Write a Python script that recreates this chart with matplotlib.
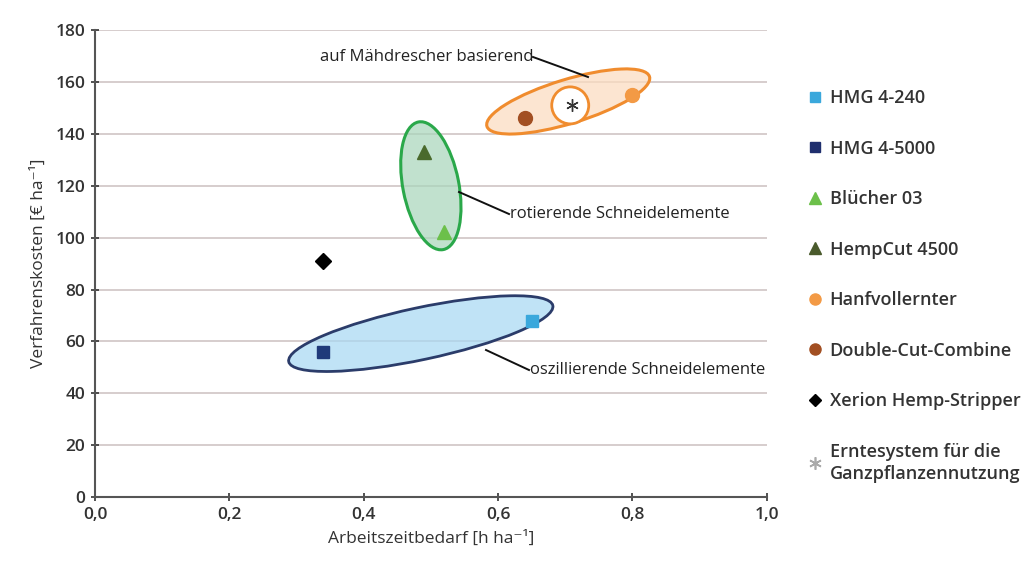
import matplotlib
matplotlib.use("Agg")
import matplotlib.pyplot as plt
import matplotlib.transforms as mtransforms
from matplotlib.patches import Ellipse
from matplotlib.lines import Line2D

# ---- data ----
names = ["HMG 4-240", "HMG 4-5000", "Blücher 03", "HempCut 4500",
         "Hanfvollernter", "Double-Cut-Combine", "Xerion Hemp-Stripper",
         "Erntesystem für die\nGanzpflanzennutzung"]
x_vals = [0.65, 0.34, 0.52, 0.49, 0.80, 0.64, 0.34, 0.71]
y_vals = [68, 56, 102, 133, 155, 146, 91, 151]
markers = ["s", "s", "^", "^", "o", "o", "D", (6, 2, 0)]
colors = ["#3aa8dc", "#1f3a7a", "#6cc04a", "#4a6a2c", "#f39a45", "#a24f22", "#000000", "#333333"]
legend_colors = ["#3aa8dc", "#1f2f6e", "#6cc04a", "#4a5a2c", "#f39a45", "#a24f22", "#000000", "#aaaaaa"]
sizes = [9, 9, 10, 10, 10, 10, 8, 9]

x_ticks = [0.0, 0.2, 0.4, 0.6, 0.8, 1.0]
x_ticklabels = ["0,0", "0,2", "0,4", "0,6", "0,8", "1,0"]
y_ticks = list(range(0, 181, 20))

FONT = "Open Sans"
plt.rcParams['font.family'] = [FONT, 'DejaVu Sans']

fig = plt.figure(figsize=(10.25, 5.69), dpi=100)
ax = fig.add_axes([0.0927, 0.1265, 0.6553, 0.8205])
ax.set_xlim(0, 1.0)
ax.set_ylim(0, 180)

ax.set_yticks(y_ticks)
ax.set_xticks(x_ticks)
ax.set_xticklabels(x_ticklabels)
ax.tick_params(axis='both', labelsize=12.5, colors="#333333", length=6, width=1.2,
               direction='inout', labelcolor="#333333", pad=4)
for lab in ax.get_xticklabels() + ax.get_yticklabels():
    lab.set_fontweight('semibold')
ax.yaxis.grid(True, color="#cfc5c5", linewidth=1.2)
ax.set_axisbelow(True)
for s in ["top", "right"]:
    ax.spines[s].set_visible(False)
for s in ["left", "bottom"]:
    ax.spines[s].set_color("#555555")
    ax.spines[s].set_linewidth(1.5)

ax.set_xlabel("Arbeitszeitbedarf [h ha\u207b\u00b9]", fontsize=12.5, color="#333333", labelpad=6)
ax.set_ylabel("Verfahrenskosten [€ ha\u207b\u00b9]", fontsize=12.5, color="#333333", labelpad=6)

# ---- ellipses (center in data, size in inches) ----
def add_ellipse(xc, yc, w, h, angle, fc, ec, lw=2, falpha=1.0, z=2):
    tr = fig.dpi_scale_trans + mtransforms.ScaledTranslation(xc, yc, ax.transData)
    e = Ellipse((0, 0), w, h, angle=angle, facecolor=matplotlib.colors.to_rgba(fc, falpha),
                edgecolor=ec, linewidth=lw, transform=tr, zorder=z)
    ax.add_patch(e)

add_ellipse(0.485, 63, 2.70, 0.52, 12, "#a8d9f3", "#2b3c6a", lw=2, falpha=0.72)
add_ellipse(0.500, 120, 1.30, 0.56, 101, "#a9d6bb", "#2aa84a", lw=2.2, falpha=0.72)
add_ellipse(0.7045, 152.5, 1.70, 0.44, 17, "#fcdcc0", "#f08c2e", lw=2.2, falpha=0.72)
add_ellipse(0.7075, 151, 0.37, 0.37, 0, "#ffffff", "#f08c2e", lw=2, z=3)

# ---- points ----
for xv, yv, m, c, s in zip(x_vals, y_vals, markers, colors, sizes):
    if isinstance(m, tuple):
        ax.plot([xv], [yv], marker=m, markersize=s, color=c, markeredgewidth=1.0,
                linestyle='none', zorder=5)
    else:
        ax.plot([xv], [yv], marker=m, markersize=s, color=c, markeredgecolor=c,
                linestyle='none', zorder=5)

# ---- annotation lines & texts ----
ann = [
    ("auf Mähdrescher basierend", (533, 57), (588, 77), "right"),
    ("rotierende Schneidelemente", (509, 214), (459, 192), "left"),
    ("oszillierende Schneidelemente", (529, 370), (486, 350), "left"),
]
for txt, tpos, lpos, ha in ann:
    fig.add_artist(Line2D([tpos[0] / 1025, lpos[0] / 1025],
                          [1 - tpos[1] / 569, 1 - lpos[1] / 569],
                          color="#111111", linewidth=1.4, zorder=6))
    fig.text(tpos[0] / 1025 + (0.001 if ha == "left" else 0), 1 - tpos[1] / 569, txt,
             ha=ha, va="center", fontsize=12, color="#222222", zorder=7)

# ---- legend ----
handles = []
for m, c, s in zip(markers, legend_colors, sizes):
    if isinstance(m, tuple):
        handles.append(Line2D([], [], marker=m, color=c, markersize=9, markeredgewidth=1.2, linestyle='none'))
    else:
        handles.append(Line2D([], [], marker=m, color=c, markeredgecolor=c,
                              markersize=s * 0.8, linestyle='none'))
leg = fig.legend(handles, names, loc="upper left", bbox_to_anchor=(0.783, 0.856),
                 frameon=False, fontsize=13, handlelength=0.6, handletextpad=0.5,
                 labelspacing=1.80, borderaxespad=0)
for t in leg.get_texts():
    t.set_fontweight('semibold')
    t.set_color("#333333")
leg.get_texts()[-1].set_linespacing(1.3)

fig.savefig("out.png", dpi=100, facecolor="white")
